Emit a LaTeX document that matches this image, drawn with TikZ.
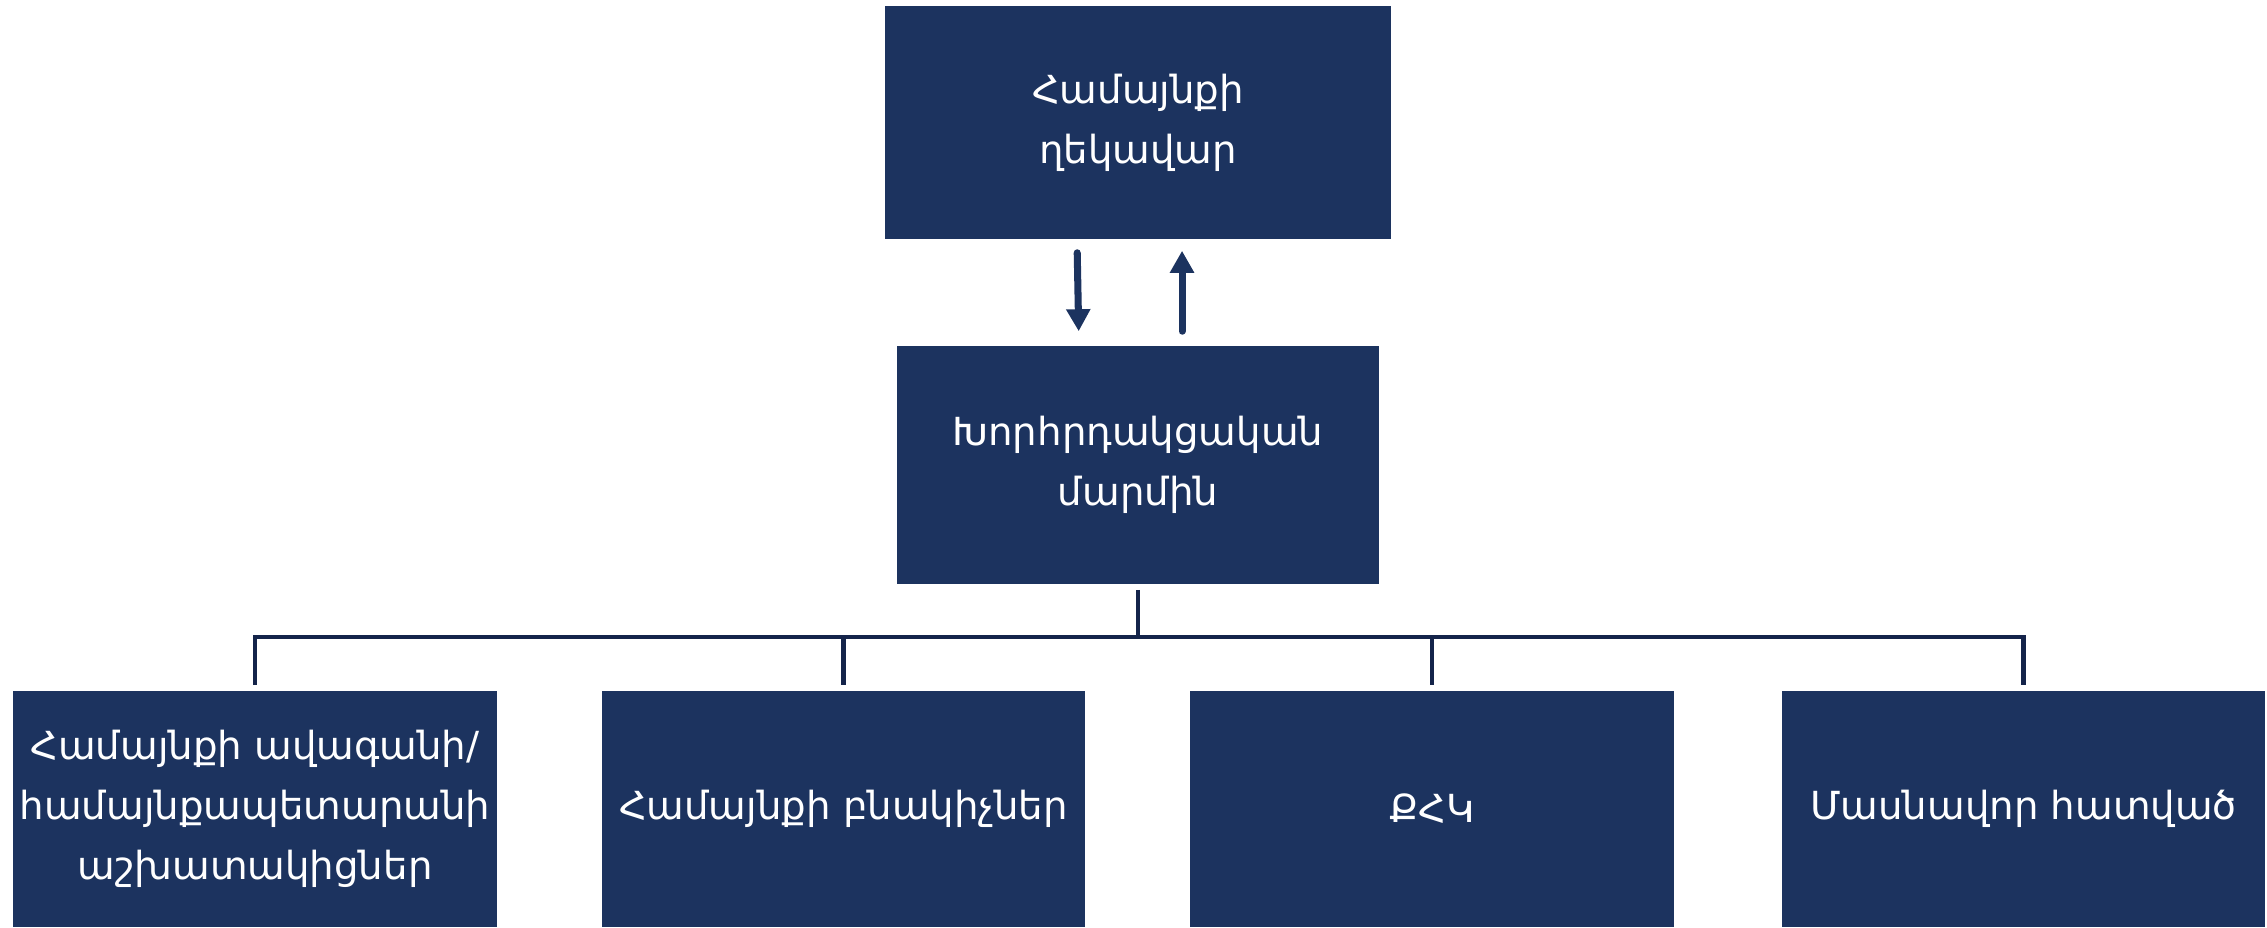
\documentclass[tikz,border=0pt]{standalone}
\usepackage{fontspec}
\setmainfont{DejaVu Sans}
\usetikzlibrary{arrows.meta}
\definecolor{boxblue}{RGB}{28,51,95}
\definecolor{linkblue}{RGB}{20,36,74}
\begin{document}
\begin{tikzpicture}[x=0.01cm,y=-0.01cm,
  unit/.style={shape=rectangle,fill=boxblue,text=white,align=center,inner sep=0pt,font=\fontsize{11}{17}\selectfont},
  unitT/.style={unit,minimum width=5.06cm,minimum height=2.33cm},
  unitM/.style={unit,minimum width=4.81cm,minimum height=2.38cm},
  unitB/.style={unit,minimum width=4.83cm,minimum height=2.36cm},
  flow/.style={draw=boxblue,line width=2pt,line cap=round,-{Triangle[width=0.23cm,length=0.22cm]}},
  link/.style={draw=linkblue,line width=1.4pt}]
\def\gap{0.05cm};

\useasboundingbox (0,0) rectangle (2267,927);

\node[unitT] (boss) at (1138,122.5) {Համայնքի\\ղեկավար};
\node[unitM] (council) at (1138,465) {Խորհրդակցական\\մարմին};

\node[unitB] (staff) at (255,809) {Համայնքի ավագանի/\\համայնքապետարանի\\աշխատակիցներ};
\node[unitB] (residents) at (843.5,809) {Համայնքի բնակիչներ};
\node[unitB] (ngo) at (1432,809) {ՔՀԿ};
\node[unitB] (private) at (2023.5,809) {Մասնավոր հատված};

\draw[flow,shorten <=0.13cm,shorten >=0.14cm] ([xshift=-0.61cm]boss.south) -- ([xshift=-0.59cm]council.north);
\draw[flow,shorten <=0.14cm,shorten >=0.11cm] ([xshift=0.44cm]council.north) -- ([xshift=0.44cm]boss.south);

\coordinate (hub) at (1138,637);
\draw[link,shorten <=\gap] (council.south) -- (hub);
\draw[link,shorten <=\gap,shorten >=\gap] (staff.north) -- (staff.north |- hub) -- (private.north |- hub) -- (private.north);
\draw[link,shorten >=\gap] (residents.north |- hub) -- (residents.north);
\draw[link,shorten >=\gap] (ngo.north |- hub) -- (ngo.north);
\end{tikzpicture}
\end{document}
